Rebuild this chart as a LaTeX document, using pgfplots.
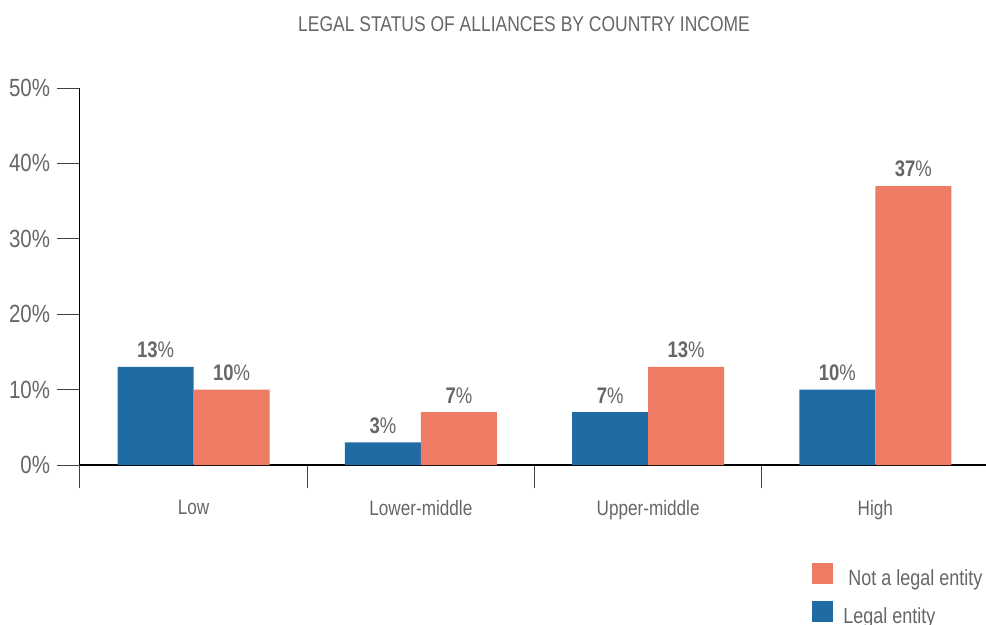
\documentclass[border=0pt]{standalone}
\usepackage{fontspec}
\setmainfont{Liberation Sans}[FakeStretch=0.82]
\usepackage{pgfplots}
\pgfplotsset{compat=1.18}
\definecolor{lblue}{HTML}{1F6CA4}
\definecolor{lorange}{HTML}{EE7B63}
\definecolor{txtgray}{HTML}{666666}

\begin{document}
\begin{tikzpicture}
\begin{axis}[
    at={(0,0)}, anchor=south west,
    scale only axis,
    width=454.5bp, height=188.5bp,
    xmin=-0.5, xmax=3.5,
    ymin=0, ymax=50,
    ybar=0pt,
    bar width=38bp,
    axis x line=bottom,
    axis y line=left,
    x axis line style={-, line width=0.8bp, black},
    y axis line style={-, line width=0.5bp, black},
    tick align=outside,
    major tick length=11.5bp,
    tick style={line width=0.5bp, black!75},
    xtick={-0.5,0.5,1.5,2.5,3.5},
    x tick label as interval,
    xticklabels={Low,Lower-middle,Upper-middle,High},
    xticklabel style={font=\fontsize{10.5}{12}\selectfont, text=txtgray, yshift=-2.5bp},
    ytick={0,10,20,30,40,50},
    yticklabel={\pgfmathprintnumber{\tick}\%},
    yticklabel style={font=\fontsize{12.5}{14}\selectfont, text=txtgray},
    /pgf/number format/assume math mode=true,
    nodes near coords={\textbf{\pgfmathprintnumber{\pgfplotspointmeta}}\%},
    nodes near coords style={font=\fontsize{11.3}{13}\selectfont, text=txtgray, yshift=1bp},
    reverse legend,
    legend cell align=left,
    legend style={
        at={(0.8053,-0.259)}, anchor=north west,
        draw=none, fill=none, inner sep=0pt,
        font=\fontsize{11}{13}\selectfont, text=txtgray,
        row sep=5bp, column sep=5bp,
        nodes={inner sep=0pt, text height=8bp, text depth=2.5bp},
    },
    legend image code/.code={\fill[#1] (0bp,-2bp) rectangle (10.5bp,8.5bp);},
]
\addplot[fill=lblue, draw=none] coordinates {(0,13) (1,3) (2,7) (3,10)};
\addplot[fill=lorange, draw=none] coordinates {(0,10) (1,7) (2,13) (3,37)};
\legend{Legal entity, \hspace{2.5bp}Not a legal entity}
\end{axis}
\node[anchor=base, text=txtgray, font=\fontsize{10.7}{13}\selectfont] at (222bp,216.5bp) {LEGAL STATUS OF ALLIANCES BY COUNTRY INCOME};
\pgfresetboundingbox
\useasboundingbox (-40bp,-80bp) rectangle (453bp,232.5bp);
\end{tikzpicture}
\end{document}
